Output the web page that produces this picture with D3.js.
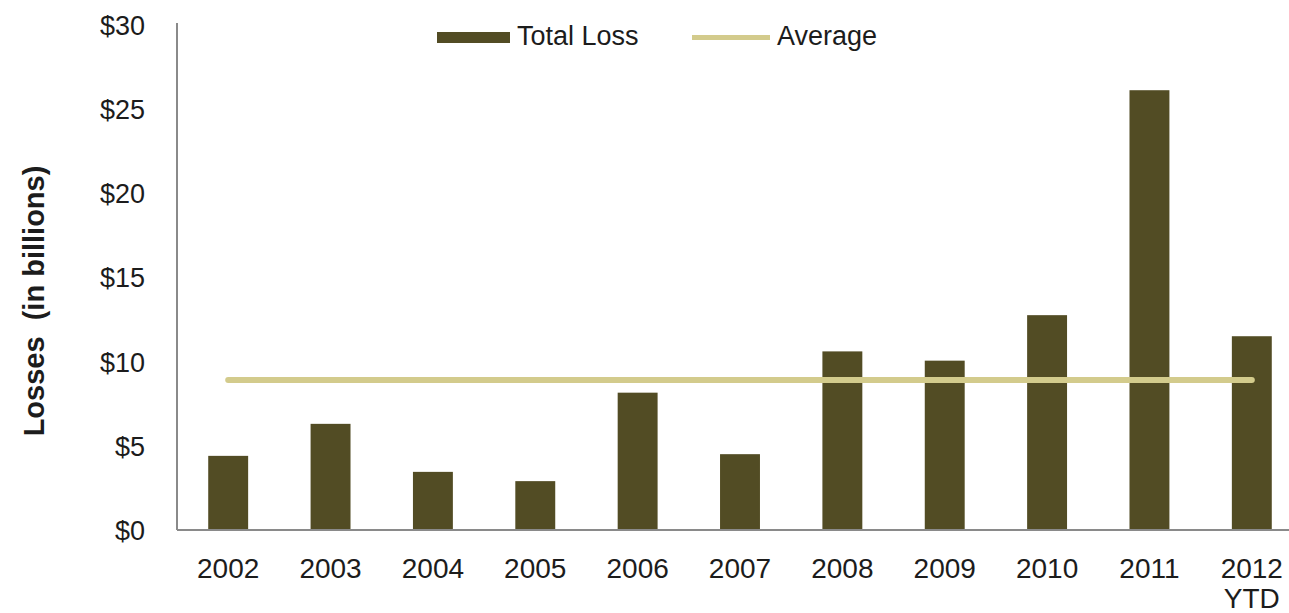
<!DOCTYPE html>
<html>
<head>
<meta charset="utf-8">
<script src="https://cdn.jsdelivr.net/npm/d3@7"></script>
<style>
  body { margin: 0; background: #fff; }
  svg text { font-family: "Liberation Sans", Arial, sans-serif; fill: #1c1c1c; }
</style>
</head>
<body>
<div id="chart"></div>
<script>
// data
const years = ["2002", "2003", "2004", "2005", "2006", "2007", "2008", "2009", "2010", "2011", "2012"];
const yearSub = ["", "", "", "", "", "", "", "", "", "", "YTD"];
const totalLoss = [4.4, 6.3, 3.45, 2.9, 8.15, 4.5, 10.6, 10.05, 12.75, 26.1, 11.5];
const average = 8.9;
const yTicks = [0, 5, 10, 15, 20, 25, 30];
const legendNames = ["Total Loss", "Average"];

let width = 1289, height = 613;
const barColor = "#524c24", avgColor = "#d3cb8c", axisColor = "#8a8a8a";

let svg = d3.select("#chart").append("svg")
    .attr("width", width)
    .attr("height", height);

let x = d3.scaleBand()
    .domain(years)
    .range([177, 1303])
    .paddingInner(0.61)
    .paddingOuter(0.305);

let y = d3.scaleLinear()
    .domain([0, 30])
    .range([530, 24.5]);

// y axis: labels only, plus a plain line
let yAxis = d3.axisLeft(y)
    .tickValues(yTicks)
    .tickSize(0)
    .tickPadding(32)
    .tickFormat(d => "$" + d);

svg.append("g")
    .attr("transform", "translate(177,0)")
    .call(yAxis)
    .call(g => g.select(".domain").remove())
    .selectAll("text")
    .attr("font-size", 27)
    .attr("font-family", null)
    .attr("dy", "0.36em");

svg.append("line")
    .attr("x1", 177).attr("x2", 177)
    .attr("y1", 23).attr("y2", y(0))
    .attr("stroke", axisColor).attr("stroke-width", 2);

// bars
svg.selectAll("rect.bar")
    .data(years)
  .enter().append("rect")
    .attr("class", "bar")
    .attr("x", d => x(d))
    .attr("width", x.bandwidth())
    .attr("y", (d, i) => y(totalLoss[i]))
    .attr("height", (d, i) => y(0) - y(totalLoss[i]))
    .attr("fill", barColor);

// x axis line
svg.append("line")
    .attr("x1", 177).attr("x2", width)
    .attr("y1", y(0)).attr("y2", y(0))
    .attr("stroke", axisColor).attr("stroke-width", 2);

// average line from first to last category centre
let cx = d => x(d) + x.bandwidth() / 2;
svg.append("line")
    .attr("x1", cx(years[0]))
    .attr("x2", cx(years[years.length - 1]))
    .attr("y1", y(average)).attr("y2", y(average))
    .attr("stroke", avgColor)
    .attr("stroke-width", 6)
    .attr("stroke-linecap", "round");

// x labels
let xl = svg.selectAll("text.xl")
    .data(years)
  .enter().append("text")
    .attr("class", "xl")
    .attr("x", d => cx(d))
    .attr("y", 578)
    .attr("text-anchor", "middle")
    .attr("font-size", 28)
    .text(d => d);

svg.selectAll("text.xsub")
    .data(years.filter((d, i) => yearSub[i]))
  .enter().append("text")
    .attr("class", "xsub")
    .attr("x", d => cx(d))
    .attr("y", 608)
    .attr("text-anchor", "middle")
    .attr("font-size", 28)
    .text(d => yearSub[years.indexOf(d)]);

// y title
svg.append("text")
    .attr("transform", "translate(44,301) rotate(-90)")
    .attr("text-anchor", "middle")
    .attr("font-size", 29)
    .attr("font-weight", "bold")
    .style("white-space", "pre")
    .text("Losses  (in billions)");

// legend
let leg = svg.append("g");
leg.append("rect")
    .attr("x", 437).attr("y", 32)
    .attr("width", 73).attr("height", 11)
    .attr("fill", barColor);
leg.append("text")
    .attr("x", 517).attr("y", 45)
    .attr("font-size", 27)
    .text(legendNames[0]);
leg.append("line")
    .attr("x1", 692).attr("x2", 770)
    .attr("y1", 37.5).attr("y2", 37.5)
    .attr("stroke", avgColor).attr("stroke-width", 5);
leg.append("text")
    .attr("x", 777).attr("y", 45)
    .attr("font-size", 27)
    .text(legendNames[1]);
</script>
</body>
</html>
